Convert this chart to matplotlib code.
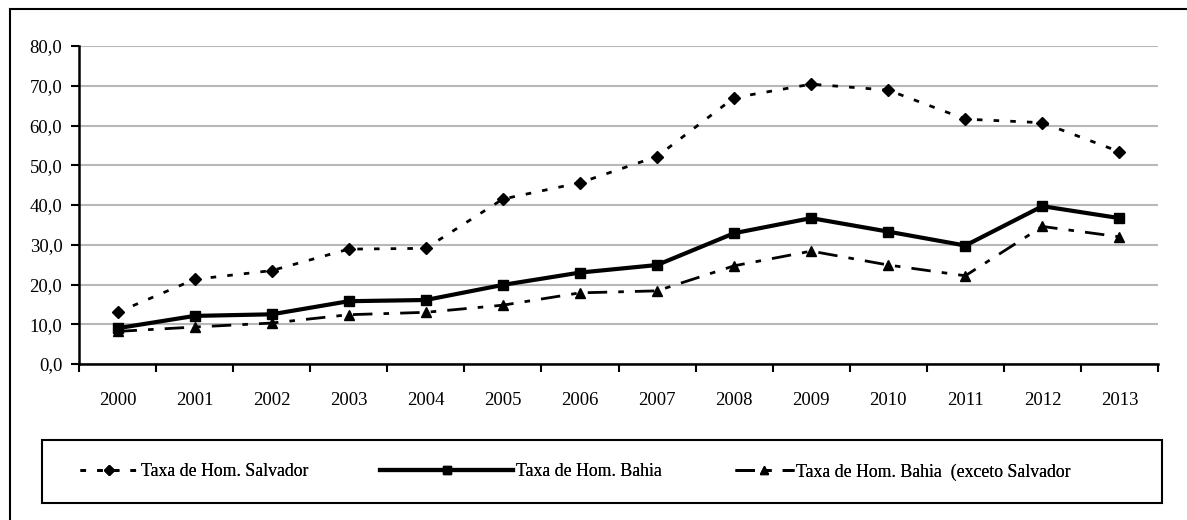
import matplotlib
matplotlib.use("Agg")
import matplotlib.pyplot as plt
from matplotlib.patches import Rectangle

years = [str(y) for y in range(2000, 2014)]
salvador = [13.0, 21.3, 23.5, 28.9, 29.1, 41.5, 45.6, 52.2, 67.0, 70.4, 68.9, 61.6, 60.7, 53.4]
bahia = [9.0, 12.1, 12.5, 15.8, 16.1, 19.9, 23.0, 24.9, 32.9, 36.7, 33.3, 29.8, 39.7, 36.7]
bahia_exceto = [8.2, 9.3, 10.3, 12.4, 13.0, 14.8, 17.9, 18.4, 24.7, 28.4, 24.9, 22.2, 34.6, 32.0]
yticks = [0, 10, 20, 30, 40, 50, 60, 70, 80]
labels = ["Taxa de Hom. Salvador", "Taxa de Hom. Bahia", "Taxa de Hom. Bahia  (exceto Salvador"]

plt.rcParams['font.family'] = ['Liberation Serif', 'DejaVu Serif']
W, H = 1187, 520

fig = plt.figure(figsize=(W / 100, H / 100), dpi=100)
ax = fig.add_axes([79 / W, 1 - 364 / H, 1079 / W, 318 / H])

x = list(range(len(years)))
l1, = ax.plot(x, salvador, color='black', lw=2, linestyle=(0, (2, 4)),
              marker='D', markersize=6.5, label=labels[0])
l2, = ax.plot(x, bahia, color='black', lw=3, linestyle='-',
              marker='s', markersize=7, label=labels[1])
l3, = ax.plot(x, bahia_exceto, color='black', lw=2, linestyle=(0, (7, 4, 2, 4)),
              marker='^', markersize=7.5, label=labels[2])

ax.set_xlim(-0.5, len(years) - 0.5)
ax.set_ylim(0, 80)
ax.set_yticks(yticks)
ax.set_yticklabels([f"{v:.1f}".replace('.', ',') for v in yticks], fontsize=13.5)
ax.set_xticks(x)
ax.set_xticklabels(years, fontsize=13.5)
ax.set_xticks([i - 0.5 for i in range(len(years) + 1)], minor=True)
ax.tick_params(axis='x', which='major', length=0, pad=20)
ax.tick_params(axis='x', which='minor', length=6, width=1.5, direction='out')
ax.tick_params(axis='y', length=6, width=1.5, direction='out', pad=6)
ax.yaxis.grid(True, color='#b8b8b8', lw=1.5)
ax.set_axisbelow(True)
for side in ['top', 'right']:
    ax.spines[side].set_visible(False)
ax.spines['left'].set_linewidth(1.8)
ax.spines['bottom'].set_linewidth(1.8)

# outer chart frame and legend box
fig.patches.append(Rectangle((10 / W, -0.01), 1.0, 1 - 9 / H + 0.01, transform=fig.transFigure,
                             fill=False, edgecolor='black', lw=1.5))
fig.patches.append(Rectangle((42 / W, 1 - 503 / H), 1120 / W, 63 / H, transform=fig.transFigure,
                             fill=False, edgecolor='black', lw=1.5))

# one legend per entry so each key can sit where it should
entries = [(l1, 80, 3.3), (l2, 380, 7.5), (l3, 735, 3.3)]
for line, left, hlen in entries:
    leg = fig.legend(handles=[line], loc='center left', bbox_to_anchor=(left / W, 1 - 472 / H),
                     fontsize=12.8, frameon=False, handlelength=hlen, handletextpad=0.15,
                     borderaxespad=0, borderpad=0, markerscale=0.75)
    fig.add_artist(leg)

fig.savefig("out.png", dpi=100)
